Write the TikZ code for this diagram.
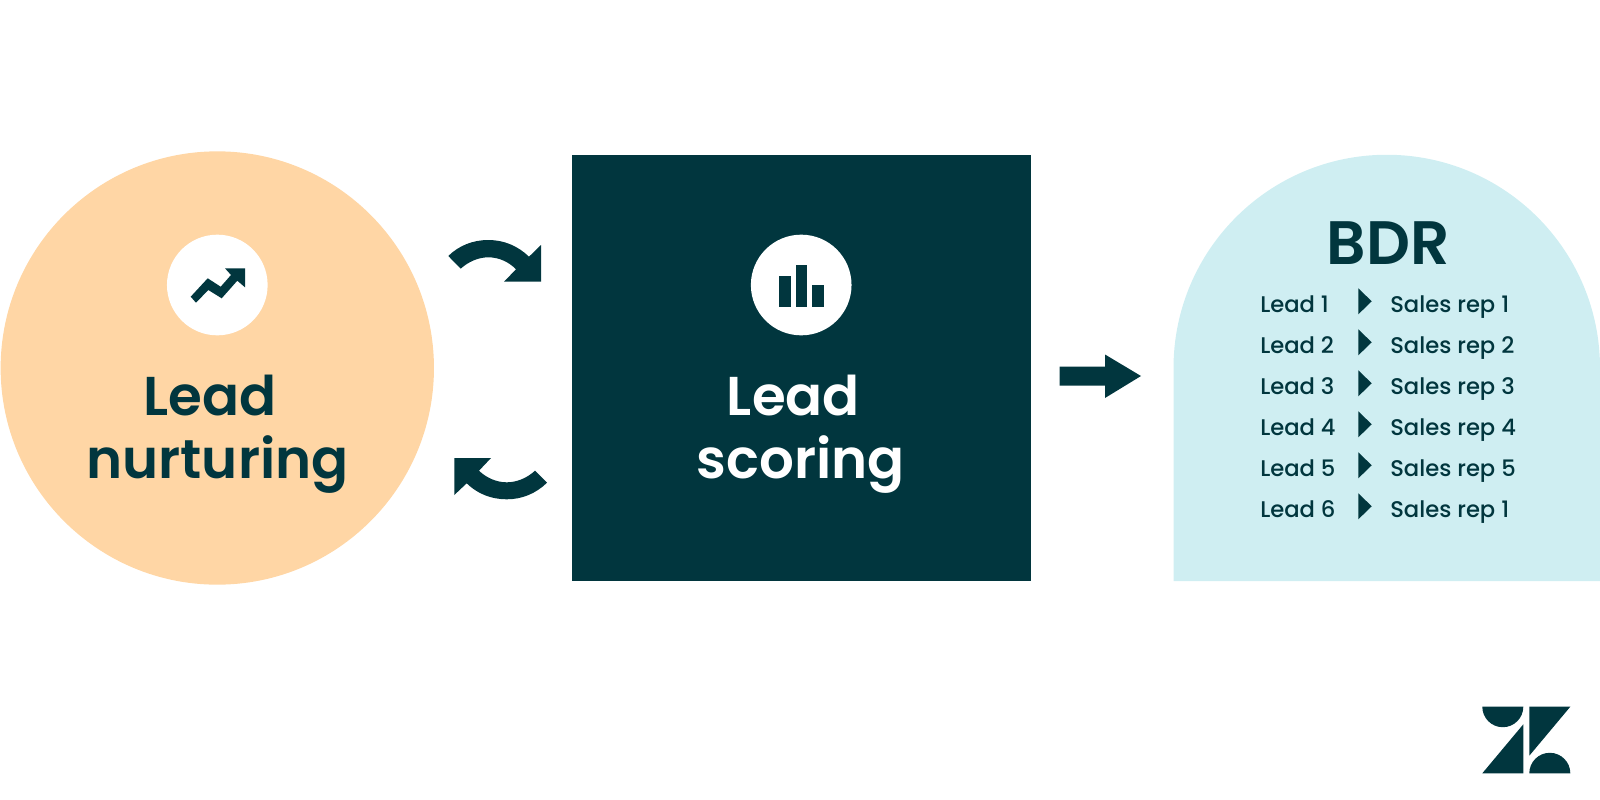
\documentclass[tikz,border=0pt]{standalone}
\usepackage{fontspec}
\setmainfont{Poppins}[BoldFont=Poppins SemiBold]
\newfontfamily\rowfont{Poppins Medium}
\usepackage{xcolor}
\definecolor{teal}{HTML}{01363E}
\definecolor{peach}{HTML}{FFD6A5}
\definecolor{ice}{HTML}{CFEEF2}
\usetikzlibrary{arrows.meta, positioning}

\begin{document}
\begin{tikzpicture}[
    x=0.75pt, y=-0.75pt,
    title/.style={font=\fontsize{41}{50}\selectfont\bfseries, text=#1, anchor=base, inner sep=0pt},
    rowtext/.style={font=\fontsize{17}{20}\selectfont\rowfont, text=teal, anchor=base west, inner sep=0pt},
    badge/.style={circle, fill=white, minimum size=75.5pt, inner sep=0pt},
    solid/.style={fill=teal, draw=none}
  ]
  \useasboundingbox (0,0) rectangle (1600,800);

  % main shapes
  \node[circle, fill=peach, minimum size=325pt, inner sep=0pt] (nurture) at (217.3,368) {};
  \node[rectangle, fill=teal, minimum width=344.6pt, minimum height=319.5pt, inner sep=0pt] (score) at (801.7,368) {};
  \fill[ice] (1173.5,581) -- (1173.5,368) arc[start angle=180, end angle=360, radius=213.25] -- (1600,581) -- cycle;

  % icons
  \node[badge] (trend) at (217.3,285) {};
  \fill[solid] (190.7,296.7) -- (207.7,278.3) -- (220.7,286.7) -- (231,275) -- (225,268.3)
    -- (245,268.3) -- (245,287.3) -- (237.3,280.7) -- (221.7,298.3) -- (208.3,290) -- (196,302.7) -- cycle;
  \node[badge] (bars) at (801.2,285) {};
  \fill[solid] (779.3,275.7) rectangle (791,306.7);
  \fill[solid] (795.7,265) rectangle (807.3,306.7);
  \fill[solid] (812,285) rectangle (823.7,306.7);

  % titles
  \node[title=teal] (lead1) at (210,415) {Lead};
  \node[title=teal] (nurt) at (217.5,478.5) {nurturing};
  \node[title=white] (lead2) at (793.4,415) {Lead};
  \node[title=white] (scor) at (801,478.5) {scoring};
  \node[title=teal, font=\fontsize{46}{50}\selectfont\bfseries] (bdr) at (1388,264) {BDR};

  % block arrows
  \fill[solid] (448.3,256) .. controls (459,245.5) and (473,240) .. (488.3,240)
    .. controls (504,240) and (518,246) .. (529,256.7) -- (541,245) -- (541,281.7) -- (504,281.7) -- (516,269.3)
    .. controls (509,262) and (499,257.3) .. (488.3,257.3)
    .. controls (478,257.3) and (468,262) .. (460.7,268.7) -- cycle;
  \fill[solid] (454.3,458) -- (491,458) -- (479,470.7)
    .. controls (486,477.5) and (496,482.3) .. (506.7,482.3)
    .. controls (517,482.3) and (527,478) .. (535,470.7) -- (547,482.7)
    .. controls (536,493.5) and (522,499.3) .. (506.7,499.3)
    .. controls (491,499.3) and (477,493.5) .. (466.7,483.3) -- (454.3,495) -- cycle;
  \fill[solid] (1059.5,366.5) -- (1105,366.5) -- (1105,354.5) -- (1141,376) -- (1105,398) -- (1105,385.5) -- (1059.5,385.5) -- cycle;

  % rows
  \foreach \i/\r in {1/1, 2/2, 3/3, 4/4, 5/5, 6/1} {
    \pgfmathsetmacro{\rowy}{312.5+41*(\i-1)}
    \node[rowtext] (lead-\i) at (1260,\rowy) {Lead \i};
    \node[rowtext] (rep-\i) at (1390,\rowy) {Sales rep \r};
    \fill[solid] (1358.3,\rowy-24.2) -- (1371.7,\rowy-11.2) -- (1358.3,\rowy+1.8) -- cycle;
  }

  % logo
  \fill[solid] (1482.3,706.7) arc[start angle=180, end angle=0, radius=20.5] -- cycle;
  \fill[solid] (1523.3,724.3) -- (1523.3,773.3) -- (1482.3,773.3) -- cycle;
  \fill[solid] (1529.3,706.7) -- (1570.3,706.7) -- (1529.3,755.7) -- cycle;
  \fill[solid] (1529.3,773.3) arc[start angle=180, end angle=360, radius=20.5] -- cycle;

\end{tikzpicture}
\end{document}
